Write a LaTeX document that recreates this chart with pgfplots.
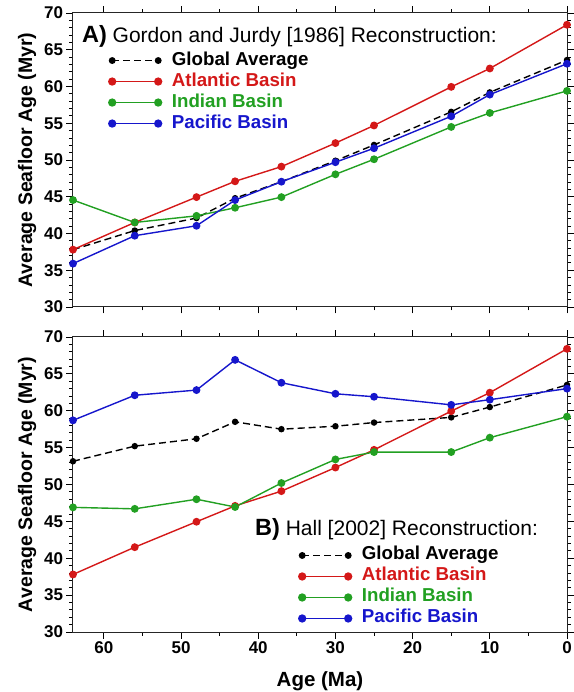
\documentclass[border=0pt]{standalone}
\usepackage{fontspec}
\setmainfont{Liberation Sans}
\usepackage{pgfplots}
\pgfplotsset{compat=1.18}
\definecolor{cred}{RGB}{212,24,24}
\definecolor{cgreen}{RGB}{34,160,34}
\definecolor{cblue}{RGB}{22,22,204}
\pgfplotsset{
  mystyle/.style={
    width=494pt, scale only axis,
    xmin=0, xmax=64, x dir=reverse,
    ymin=30, ymax=70,
    ytick={30,35,...,70}, xtick={0,10,...,60},
    minor x tick num=1, minor y tick num=4,
    tick align=outside, xtick pos=both, ytick pos=both,
    major tick length=6.5pt, minor tick length=3.5pt,
    every tick/.style={black, line width=0.8pt},
    axis line style={line width=1pt, black!85},
    tick label style={font=\fontsize{17}{17}\selectfont\bfseries},
    /pgf/number format/assume math mode=true,
    ylabel={Average Seafloor Age (Myr)},
    ylabel style={font=\fontsize{19.5}{19.5}\selectfont\bfseries, inner sep=0pt,
      at={(axis description cs:-0.074,0.5)}, anchor=south},
    every axis plot/.append style={line width=1.4pt, mark=*, mark size=3.2pt},
    legend cell align=left,
    legend style={draw=none, fill=none, inner sep=0pt, outer sep=0pt,
      font=\fontsize{18.7}{21}\selectfont\bfseries, row sep=0pt, column sep=9pt,
      nodes={inner sep=1.5pt, text height=13.5pt, text depth=4.5pt}},
    legend image code/.code={\draw[##1] plot coordinates {(0pt,0pt) (46pt,0pt)};},
    legend image post style={line width=1.8pt},
  },
  glob/.style={black, dashed, dash pattern=on 7pt off 4pt, mark size=2.5pt, mark options={solid}},
  atl/.style={cred},
  ind/.style={cgreen},
  pac/.style={cblue},
}
\begin{document}
\begin{tikzpicture}
\begin{axis}[mystyle, name=top, height=294pt, xticklabels={},
  legend style={at={(0.0729,0.874)}, anchor=north west}]
\addplot[glob] coordinates {(64,37.8) (56,40.4) (48,42.1) (43,44.8) (37,47.05) (30,49.9) (25,52.05) (15,56.55) (10,59.2) (0,63.6)};
\addlegendentry{Global Average}
\addplot[atl] coordinates {(64,37.8) (56,41.5) (48,44.95) (43,47.1) (37,49.1) (30,52.3) (25,54.7) (15,59.95) (10,62.45) (0,68.4)};
\addlegendentry{\textcolor{cred}{Atlantic Basin}}
\addplot[ind] coordinates {(64,44.55) (56,41.5) (48,42.4) (43,43.5) (37,44.95) (30,48.05) (25,50.1) (15,54.5) (10,56.4) (0,59.4)};
\addlegendentry{\textcolor{cgreen}{Indian Basin}}
\addplot[pac] coordinates {(64,35.9) (56,39.7) (48,41.05) (43,44.55) (37,47.05) (30,49.7) (25,51.6) (15,55.95) (10,58.9) (0,63.1)};
\addlegendentry{\textcolor{cblue}{Pacific Basin}}
\node[anchor=base west, inner sep=0pt, font=\fontsize{21}{21}\selectfont] at (axis cs:62.85,66.05) {{\fontsize{23.5}{23.5}\selectfont\bfseries A)} Gordon and Jurdy [1986] Reconstruction:};
\end{axis}
\begin{axis}[mystyle, name=bot, height=295pt, at={(top.south west)}, anchor=north west, yshift=-30pt,
  xlabel={Age (Ma)}, xlabel style={font=\fontsize{20.5}{20.5}\selectfont\bfseries, inner sep=0pt,
    at={(axis description cs:0.5,-0.132)}, anchor=north},
  legend style={at={(0.4575,0.295)}, anchor=north west}]
\addplot[glob] coordinates {(64,53.15) (56,55.2) (48,56.2) (43,58.5) (37,57.5) (30,57.9) (25,58.4) (15,59.1) (10,60.5) (0,63.5)};
\addlegendentry{Global Average}
\addplot[atl] coordinates {(64,37.8) (56,41.5) (48,44.95) (43,47.1) (37,49.1) (30,52.3) (25,54.7) (15,59.95) (10,62.45) (0,68.4)};
\addlegendentry{\textcolor{cred}{Atlantic Basin}}
\addplot[ind] coordinates {(64,46.9) (56,46.7) (48,48.0) (43,46.95) (37,50.2) (30,53.4) (25,54.4) (15,54.4) (10,56.35) (0,59.2)};
\addlegendentry{\textcolor{cgreen}{Indian Basin}}
\addplot[pac] coordinates {(64,58.7) (56,62.1) (48,62.8) (43,66.9) (37,63.8) (30,62.3) (25,61.9) (15,60.8) (10,61.5) (0,63.0)};
\addlegendentry{\textcolor{cblue}{Pacific Basin}}
\node[anchor=base west, inner sep=0pt, font=\fontsize{21}{21}\selectfont] at (axis cs:40.43,43.15) {{\fontsize{23.5}{23.5}\selectfont\bfseries B)} Hall [2002] Reconstruction:};
\end{axis}
\pgfresetboundingbox
\path[use as bounding box] ([xshift=-73pt,yshift=13pt]top.north west) rectangle ([xshift=6pt,yshift=-60pt]bot.south east);
\end{tikzpicture}
\end{document}
